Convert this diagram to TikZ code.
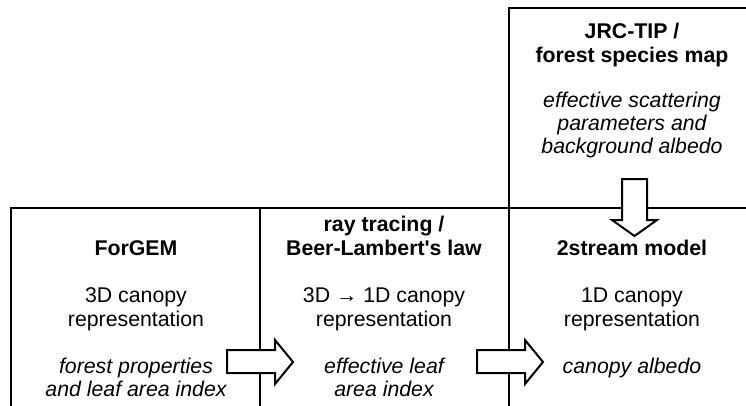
\documentclass[tikz,border=0pt]{standalone}
\usepackage{fontspec}
\setmainfont{Liberation Sans}
\usepackage{tikz}
\usetikzlibrary{positioning}
\tikzset{txt/.style={align=center,anchor=base,inner sep=0pt,font=\fontsize{21.3}{23.5}\selectfont},
         ttl/.style={txt,font=\fontsize{21.3}{24}\selectfont\bfseries},
         itl/.style={txt,font=\fontsize{21.3}{23}\selectfont\itshape},
         frame/.style={line width=2.2pt,line join=miter},
         fat/.style={draw,fill=white,line width=2pt,line join=miter}}

\begin{document}
\begin{tikzpicture}[x=1pt,y=-1pt]
    \clip (0,0) rectangle (746,405);

    % boxes
    \draw [frame] (11,430) -- (11,208) -- (760,208);
    \draw [frame] (260,208) -- (260,430);
    \draw [frame] (509,430) -- (509,8) -- (760,8);

    % texts (base = last line)
    \node[ttl] (forgem) at (136,255) {ForGEM};
    \node[txt] (canopya) at (136,326) {3D canopy\\representation};
    \node[itl] (lai) at (136,396) {forest properties\\and leaf area index};

    \node[ttl] (ray) at (384,255) {ray tracing /\\Beer-Lambert\textquotesingle s law};
    \node[txt] (canopyb) at (384,326) {3D → 1D canopy\\representation};
    \node[itl] (efflai) at (384,396) {effective leaf\\area index};

    \node[ttl] (two) at (632,255) {2stream model};
    \node[txt] (canopyc) at (632,326) {1D canopy\\representation};
    \node[itl] (albedo) at (632,373) {canopy albedo};

    \node[ttl] (jrc) at (632,62.5) {JRC-TIP /\\forest species map};
    \node[itl] (scat) at (632,153) {effective scattering\\parameters and\\background albedo};

    % arrows
    \draw [fat] (227,350) -- (275,350) -- (275,340) -- (293,362) -- (275,384) -- (275,373) -- (227,373) -- cycle;
    \draw [fat] (477,350) -- (525,350) -- (525,340) -- (543,362) -- (525,384) -- (525,373) -- (477,373) -- cycle;
    \draw [fat] (622,179) -- (622,220) -- (612,220) -- (634.5,236) -- (657,220) -- (647,220) -- (647,179) -- cycle;
\end{tikzpicture}
\end{document}
